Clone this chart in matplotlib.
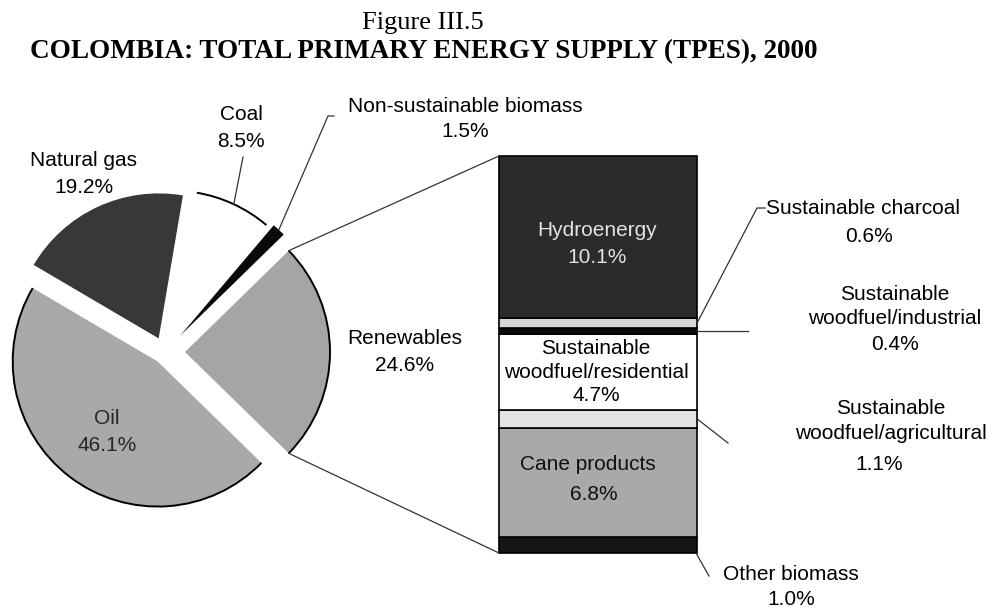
import matplotlib
matplotlib.use('Agg')
import matplotlib.pyplot as plt
from matplotlib.patches import Arc
import numpy as np

matplotlib.rcParams['font.family'] = 'Liberation Sans'
matplotlib.rcParams['font.size'] = 15

# ---- data ----
pie_labels = ['Renewables', 'Non-sustainable biomass', 'Coal', 'Natural gas', 'Oil']
pie_values = [24.6, 1.5, 8.5, 19.2, 46.1]
pie_colors = ['#a5a5a5', '#0a0a0a', '#ffffff', '#383838', '#a9a9a9']

bar_labels = ['Other biomass', 'Cane products', 'Sustainable\nwoodfuel/agricultural',
              'Sustainable\nwoodfuel/residential', 'Sustainable\nwoodfuel/industrial',
              'Sustainable charcoal', 'Hydroenergy']
bar_values = [1.0, 6.8, 1.1, 4.7, 0.4, 0.6, 10.1]
bar_colors = ['#151515', '#a9a9a9', '#e4e4e4', '#ffffff', '#0a0a0a', '#d6d6d6', '#2b2b2b']

H = 608
fig = plt.figure(figsize=(9.94, 6.08), dpi=100)
ax = fig.add_axes([0, 0, 1, 1])

# ---- pie (pixel coords, y up) ----
R = 145
cx, cy = 165, H - 352
explode_px = [20, 22, 18, 15, 12]   # pie explode is in data units
start = -pie_values[0] / sum(pie_values) * 180
wedges, _ = ax.pie(pie_values, colors=pie_colors, explode=explode_px, startangle=start,
                   radius=R, center=(cx, cy), frame=True,
                   wedgeprops=dict(edgecolor='none', linewidth=0))
ax.set_xlim(0, 994)
ax.set_ylim(0, H)
ax.set_aspect('equal')
ax.axis('off')

# black outline on the arcs
for i in [0, 2, 4]:
    w = wedges[i]
    ax.add_patch(Arc(w.center, 2 * R, 2 * R, theta1=w.theta1, theta2=w.theta2,
                     color='black', lw=1.4))

# ---- bar of renewables ----
bx, bw = 598, 198
y0, y1 = 55, 452
scale = (y1 - y0) / sum(bar_values)
bottoms = y0 + np.concatenate([[0], np.cumsum(bar_values)[:-1]]) * scale
heights = np.array(bar_values) * scale
ax.bar(bx, heights, width=bw, bottom=bottoms, color=bar_colors, edgecolor='black', lw=1.2)

# connectors from renewables wedge to bar
rw = wedges[0]
for th, yb in [(rw.theta2, y1), (rw.theta1, y0)]:
    px = rw.center[0] + R * np.cos(np.radians(th))
    py = rw.center[1] + R * np.sin(np.radians(th))
    ax.plot([px, bx - bw / 2], [py, yb], color='#333333', lw=0.9)

# ---- labels ----
lc = '#333333'
ax.text(84, H - 174, 'Natural gas\n19.2%', ha='center', va='center', linespacing=1.5)
ax.text(241, H - 128, 'Coal\n8.5%', ha='center', va='center', linespacing=1.5)
ax.text(465, H - 119, 'Non-sustainable biomass\n1.5%', ha='center', va='center', linespacing=1.45)
ax.text(405, H - 352, 'Renewables\n24.6%', ha='center', va='center', linespacing=1.55)
ax.text(107, H - 432, 'Oil\n46.1%', ha='center', va='center', linespacing=1.55, color='#262626')

# coal leader
cw = wedges[2]
am = np.radians(0.5 * (cw.theta1 + cw.theta2))
ax.plot([cw.center[0] + R * np.cos(am), 243], [cw.center[1] + R * np.sin(am), H - 157],
        color=lc, lw=0.9)
# non-sustainable leader
nw = wedges[1]
am = np.radians(0.5 * (nw.theta1 + nw.theta2))
ax.plot([nw.center[0] + R * np.cos(am), 328, 334],
        [nw.center[1] + R * np.sin(am), H - 116, H - 116], color=lc, lw=0.9)

# inside bar labels
mid = bottoms + heights / 2
ax.text(bx - 1, mid[6] - 7, 'Hydroenergy\n10.1%', ha='center', va='center', color='#e2e2e2',
        linespacing=1.5)
ax.text(bx - 2, mid[3], 'Sustainable\nwoodfuel/residential\n4.7%', ha='center', va='center',
        linespacing=1.3)
ax.text(bx - 10, H - 465, 'Cane products', ha='center', va='center', color='#111111')
ax.text(bx - 4, H - 495, '6.8%', ha='center', va='center', color='#111111')

# outside bar labels with leaders
xr = bx + bw / 2
ax.plot([xr, 757, 765], [mid[5], H - 208, H - 208], color=lc, lw=0.9)
ax.text(766, H - 208, 'Sustainable charcoal', ha='left', va='center')
ax.text(869, H - 237, '0.6%', ha='center', va='center')

ax.plot([xr, 748], [mid[4], mid[4]], color=lc, lw=0.9)
ax.text(895, H - 319, 'Sustainable\nwoodfuel/industrial\n0.4%', ha='center', va='center',
        linespacing=1.4)

ax.plot([xr, 728], [mid[2], H - 443], color=lc, lw=0.9)
ax.text(891, H - 421, 'Sustainable\nwoodfuel/agricultural', ha='center', va='center',
        linespacing=1.4)
ax.text(879, H - 465, '1.1%', ha='center', va='center')

ax.plot([xr - 1, 709], [y0, H - 576], color=lc, lw=0.9)
ax.text(791, H - 587, 'Other biomass\n1.0%', ha='center', va='center', linespacing=1.4)

# ---- titles ----
fig.text(423 / 994, 1 - 23 / H, 'Figure III.5', ha='center', va='center',
         family='Liberation Serif', fontsize=19)
fig.text(424 / 994, 1 - 52 / H, 'COLOMBIA: TOTAL PRIMARY ENERGY SUPPLY (TPES), 2000',
         ha='center', va='center', family='Liberation Serif', fontsize=19.5, fontweight='bold')

fig.savefig('out.png', dpi=100, facecolor='white')
